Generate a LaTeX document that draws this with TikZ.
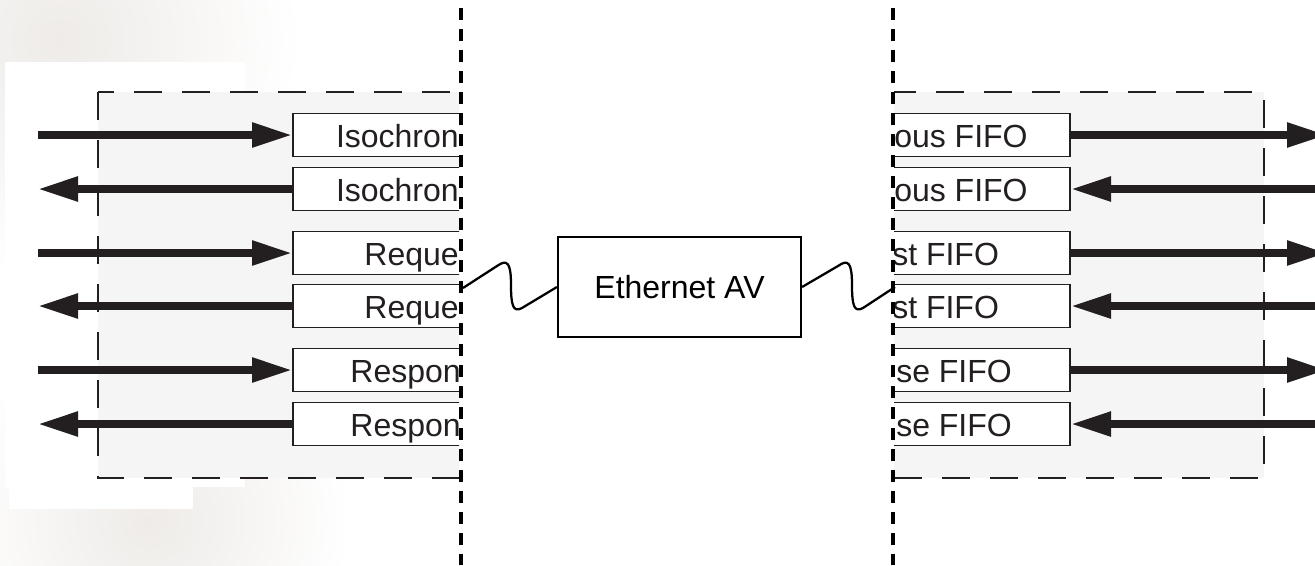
\documentclass[tikz,border=0pt]{standalone}
\usepackage{fontspec}
\setmainfont{Liberation Sans}
\usetikzlibrary{arrows.meta}
\definecolor{ink}{RGB}{35,31,32}
\definecolor{panel}{RGB}{245,245,245}
\definecolor{haze}{RGB}{238,235,232}
\tikzset{
  fifo/.style={draw=ink, line width=1.2pt, fill=white, minimum height=32.25pt, inner sep=0pt},
  lfifo/.style={fifo, minimum width=201pt, anchor=west},
  rfifo/.style={fifo, minimum width=218.25pt, anchor=east},
  lbl/.style={text=ink, font=\fontsize{24}{28}\selectfont, inner sep=0pt},
  bus/.style={draw=ink, line width=5.5pt, -{Triangle[length=30pt, width=17.5pt]}},
  panelbox/.style={fill=panel, draw=ink, line width=1.1pt, dash pattern=on 21pt off 15pt},
  cut/.style={draw=black, line width=2.3pt, dash pattern=on 9pt off 6.75pt, dash phase=-6pt},
  avbox/.style={draw=black, line width=1.6pt, fill=white, minimum width=182.25pt, minimum height=75pt, font=\fontsize{24}{28}\selectfont},
  wave/.style={draw=black, line width=1.7pt, line join=round}
}
\begin{document}
\begin{tikzpicture}[x=0.75pt, y=-0.75pt]
\clip (0,0) rectangle (1315,565);
\fill[white] (0,0) rectangle (1315,565);
% soft backdrop around the inset
\shade[inner color=haze, outer color=white] (60,40) circle (240);
\shade[inner color=haze, outer color=white] (150,520) circle (200);
\fill[white] (5,62) rectangle (245,487);
\fill[white] (9,480) rectangle (193,509);

% ---- left side, cut at the dashed line
\begin{scope}
\clip (0,0) rectangle (459,565);
\draw[panelbox] (98,92) rectangle (560,478);
\foreach \i/\y in {1/135,2/189,3/253,4/306,5/370,6/424}
  \node[lfifo] (l\i) at (292,\y) {};
\node[lbl, anchor=base east] at (459,147) {Isochron};
\node[lbl, anchor=base east] at (459,201) {Isochron};
\node[lbl, anchor=base east] at (459,265) {Reque};
\node[lbl, anchor=base east] at (459,318) {Reque};
\node[lbl, anchor=base east] at (461,382) {Respon};
\node[lbl, anchor=base east] at (461,436) {Respon};
\end{scope}

% ---- right side, cut at the dashed line
\begin{scope}
\clip (894,0) rectangle (1315,565);
\draw[panelbox] (800,92) rectangle (1264,478);
\foreach \i/\y in {1/135,2/189,3/253,4/306,5/370,6/424}
  \node[rfifo] (r\i) at (1071,\y) {};
\node[lbl, anchor=base west] at (894,147) {ous FIFO};
\node[lbl, anchor=base west] at (894,201) {ous FIFO};
\node[lbl, anchor=base west] at (892,265) {st FIFO};
\node[lbl, anchor=base west] at (892,318) {st FIFO};
\node[lbl, anchor=base west] at (896,382) {se FIFO};
\node[lbl, anchor=base west] at (896,436) {se FIFO};
\end{scope}

% ---- external ports
\foreach \i/\y in {1/135,2/189,3/253,4/306,5/370,6/424} {
  \coordinate (pl\i) at (38,\y);
  \coordinate (pr\i) at (1327,\y);
}
\draw[bus] (pl1) -- (l1.west);
\draw[bus] (l2.west) -- (pl2);
\draw[bus] (pl3) -- (l3.west);
\draw[bus] (l4.west) -- (pl4);
\draw[bus] (pl5) -- (l5.west);
\draw[bus] (l6.west) -- (pl6);
\draw[bus] (r1.east) -- (pr1);
\draw[bus] (pr2) -- (r2.east);
\draw[bus] (r3.east) -- (pr3);
\draw[bus] (pr4) -- (r4.east);
\draw[bus] (r5.east) -- (pr5);
\draw[bus] (pr6) -- (r6.east);

% ---- network link
\node[avbox] (av) at (679.5,287) {Ethernet AV};
\coordinate (wl) at (463,288);
\coordinate (wr) at (895,287);
\draw[wave] (wl) -- (497,266) .. controls (507,259) and (511,262) .. (511,285)
  .. controls (511,305) and (513,313) .. (522,308) -- (av.west);
\draw[wave] (av.east) -- (838,266) .. controls (848,259) and (852,262) .. (852,285)
  .. controls (852,305) and (854,313) .. (863,308) -- (wr);

% ---- cut lines
\draw[cut] (461,0) -- (461,565);
\draw[cut] (893,0) -- (893,565);
\end{tikzpicture}
\end{document}
